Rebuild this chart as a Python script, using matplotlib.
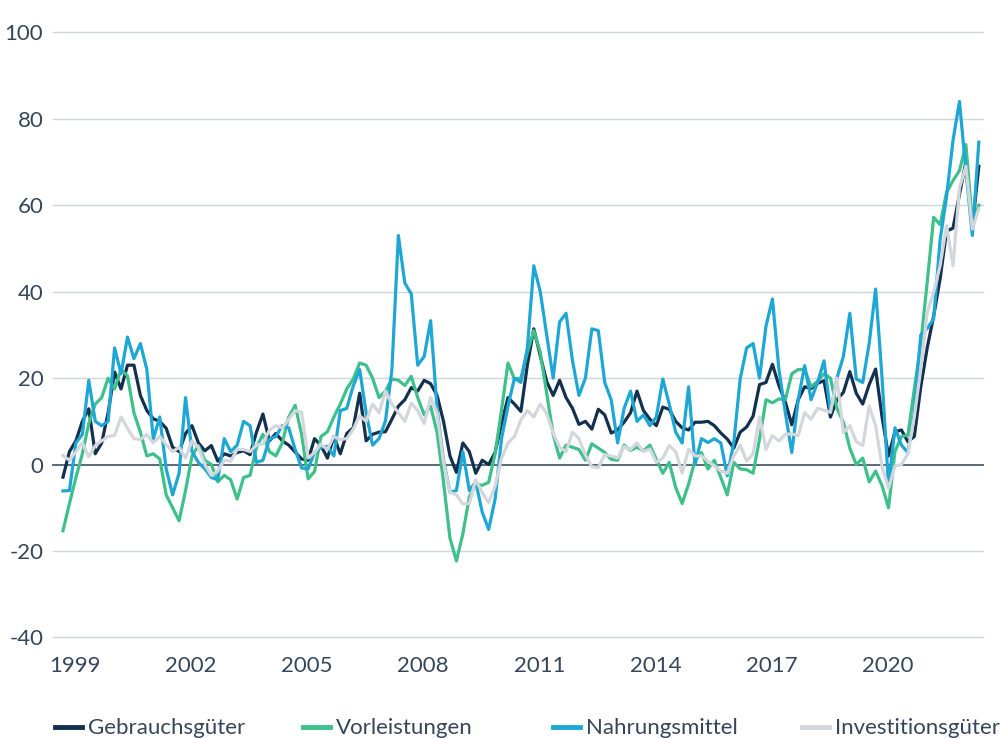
import numpy as np
import matplotlib
matplotlib.use("Agg")
import matplotlib.pyplot as plt
from matplotlib.lines import Line2D

# Zeitachse: alle 2 Monate ab Jan 1999
monate = np.arange(0, 286, 2)

gebrauchsgueter = [
    -2.9, 3, 5.5, 10, 12.9, 2.5, 5, 12, 21.4, 17.5, 23, 23, 16, 12.5, 10.6, 10, 8.4, 4, 3, 7.2,
    9, 5, 3.2, 4.4, 0.8, 2.5, 2, 2.8, 3.2, 2.3, 7.5, 11.7, 5.5, 7.2, 5.5, 4.5, 2.9, 1.3, 1, 6,
    4.4, 1.5, 6.5, 2.5, 7.2, 8.5, 16.5, 5.5, 7, 7.5, 7.6, 10.5, 13.5, 15, 17.8, 17, 19.5, 18.7, 16, 10,
    2, -1.8, 5, 3, -2, 1, 0, 2.8, 9.5, 15.5, 14, 12.3, 23, 31.4, 25.2, 19.2, 16, 19.5, 15.5, 13,
    9.3, 10, 8.2, 12.8, 11.5, 7.3, 8, 9.8, 12, 17, 12.5, 10.5, 9, 13.3, 12.8, 10, 8.5, 8, 9.8, 9.8,
    10, 9, 7.3, 5.9, 3.8, 7.5, 8.7, 11.2, 18.5, 19, 23.2, 18.3, 14.5, 9.2, 15, 18, 17.6, 18.8, 19.4, 11,
    15, 16.7, 21.5, 16.5, 14, 18.5, 22.1, 11, 2, 7.6, 8, 5.3, 6.5, 18, 27, 34.4, 43, 54, 54.7, 62.5,
    70, 55, 69,
]
vorleistungen = [
    -15.3, -9, -3, 2.5, 9.5, 14, 15.5, 20, 17.5, 22, 20.5, 12, 7.5, 2, 2.5, 1.3, -7, -10, -13, -6,
    2, 4.4, 1, 0, -4, -2.5, -3.5, -8, -3, -2.5, 4, 7, 3, 2, 5, 11, 13.7, 7, -3.3, -1.6,
    6.5, 7.6, 11, 14, 17.5, 19.8, 23.5, 23, 20, 15.5, 17, 19.8, 19.5, 18.3, 20.4, 15.5, 11.5, 13.5, 7.5, -4,
    -17, -22.3, -16, -7.5, -4.5, -4.8, -4.1, 2.5, 12.7, 23.5, 19.8, 20, 26, 31, 26, 16.5, 7, 1.5, 4.5, 4,
    3.5, 1, 4.8, 3.8, 2.8, 1.2, 1, 4.5, 3.3, 4, 3.2, 4.5, 1.2, -2, 0.5, -5.3, -9, -4.5, 1, 2.8,
    -1, 1, -3, -7, 0.5, -1, -1.2, -2, 5.9, 15, 14.3, 15.2, 15, 21, 22, 22, 18, 19.3, 21, 20,
    13, 9.8, 3.8, 0, 1.5, -4, -1.5, -4.9, -10, 3, 6.5, 6.8, 17.5, 28, 42.2, 57.2, 55.5, 63, 65.7, 68,
    74, 56, 60,
]
nahrungsmittel = [
    -6.1, -6, 5, 7, 19.5, 10, 9, 10, 27, 21, 29.5, 24.5, 28, 22, 5.9, 11, -1, -7, -2, 15.5,
    3, 0.5, -1, -3, -3.5, 6, 3, 4.5, 10, 9, 0.5, 1, 5.9, 6.5, 9, 8.5, 3.5, -0.8, -1, 2.8,
    4, 4.2, 2, 12.5, 13, 18.2, 22, 12, 4.5, 6, 10.1, 22, 53, 42, 39.5, 23, 25, 33.3, 13, 1,
    -6.4, -6, 3, -6, -4, -11, -15, -8, 6, 13.5, 20, 19, 27, 46, 40, 30, 20, 33, 35, 24,
    16, 20, 31.4, 31, 19, 15, 5, 13, 17, 10, 11.5, 9, 11, 19.8, 14, 7.5, 5, 18, 0, 6,
    5.1, 6, 5, -2.6, 5, 19.8, 27, 28, 20, 32, 38.3, 22.1, 12, 2.8, 15, 22.9, 15, 19, 24, 12.1,
    20, 25, 35, 19.8, 19, 28, 40.6, 20, -5, 8.5, 4.5, 2.8, 12, 30, 31.5, 33.7, 52, 62, 75, 84,
    68, 53, 74.6,
]
investitionsgueter = [
    2.1, 1, 3, 5, 1.8, 4.4, 5.5, 6.5, 6.7, 11, 8.4, 6, 5.8, 7, 5, 6.5, 4.6, 3, 4, 1.5,
    5.5, 4, 0, -2.5, -1.5, 1, 0.8, 3.5, 3.5, 3, 4.5, 4.8, 8, 9, 8.5, 10.5, 12.5, 12.1, 1.5, 2.8,
    4.7, 3.5, 6.5, 5.8, 6, 8.2, 11.3, 10, 14, 12, 17, 14, 12, 10, 14.2, 12.5, 9.5, 15.5, 12, 0.5,
    -6.4, -7, -9.1, -9, -3.5, -6.5, -8.8, -5, 1.5, 5, 6.5, 10.3, 12.5, 11, 14, 11.8, 7.3, 4, 3, 7.5,
    6, 2.2, -0.5, -0.7, 2.3, 2, 1.5, 4.2, 3.5, 5, 3, 3.6, 0.5, 1.5, 4.4, 3, -2, 3.5, 2, 2,
    0.8, -0.3, -1.5, -2, 2, 4.5, 0.8, 2.5, 11, 3.5, 6.7, 5.5, 7, 7.1, 6.7, 12, 10.5, 13, 12.6, 12.1,
    20, 7.4, 9, 5.3, 4.4, 13.5, 9, -0.5, -5.5, -0.3, 0, 2.5, 11, 22.1, 35.2, 39.9, 46, 55.3, 46, 64,
    69, 54.5, 59.2,
]

jahre = [1999, 2002, 2005, 2008, 2011, 2014, 2017, 2020]
y_ticks = [-40, -20, 0, 20, 40, 60, 80, 100]

serien = [
    ("Gebrauchsgüter", gebrauchsgueter, "#13304f"),
    ("Vorleistungen", vorleistungen, "#3ec08b"),
    ("Nahrungsmittel", nahrungsmittel, "#1ea7d4"),
    ("Investitionsgüter", investitionsgueter, "#d3d7dc"),
]

text_col = "#34465a"
schrift = ["Lato", "DejaVu Sans"]

fig = plt.figure(figsize=(10, 7.38), dpi=100)
ax = fig.add_axes([0.053, 0.1362, 0.93, 0.82])

for y in y_ticks:
    if y == 0:
        ax.axhline(y, color="#5b6977", lw=1.4, zorder=1, clip_on=False)
    else:
        ax.axhline(y, color="#cfd5dc", lw=1.0, zorder=0, clip_on=False)

# Zeichenreihenfolge: grau oben
for idx in [1, 2, 0, 3]:
    name, werte, farbe = serien[idx]
    ax.plot(monate, werte, color=farbe, lw=2.3, zorder=2 + idx, solid_joinstyle="round")

ax.set_xlim(-3.1, 285.3)
ax.set_ylim(-40, 100)
ax.set_yticks(y_ticks)
ax.set_yticklabels([str(v) for v in y_ticks], family=schrift, fontsize=16, color=text_col)
ax.set_xticks([(j - 1999) * 12 + 3.7 for j in jahre])
ax.set_xticklabels([str(j) for j in jahre], family=schrift, fontsize=16, color=text_col)
ax.tick_params(axis="y", length=0, pad=7)
ax.tick_params(axis="x", length=0, pad=13)
for s in ax.spines.values():
    s.set_visible(False)

# Legende unten, jede Spalte fest positioniert
leg_x = [0.055, 0.303, 0.553, 0.802]
for (name, werte, farbe), lx in zip(serien, leg_x):
    h = Line2D([], [], color=farbe, lw=3.5)
    lg = fig.legend(handles=[h], labels=[name], loc="center left",
                    bbox_to_anchor=(lx, 0.013), frameon=False, handlelength=1.2,
                    handletextpad=0.3, borderpad=0, borderaxespad=0,
                    prop={"family": schrift, "size": 16})
    for t in lg.get_texts():
        t.set_color(text_col)

fig.savefig("out.png", dpi=100)
